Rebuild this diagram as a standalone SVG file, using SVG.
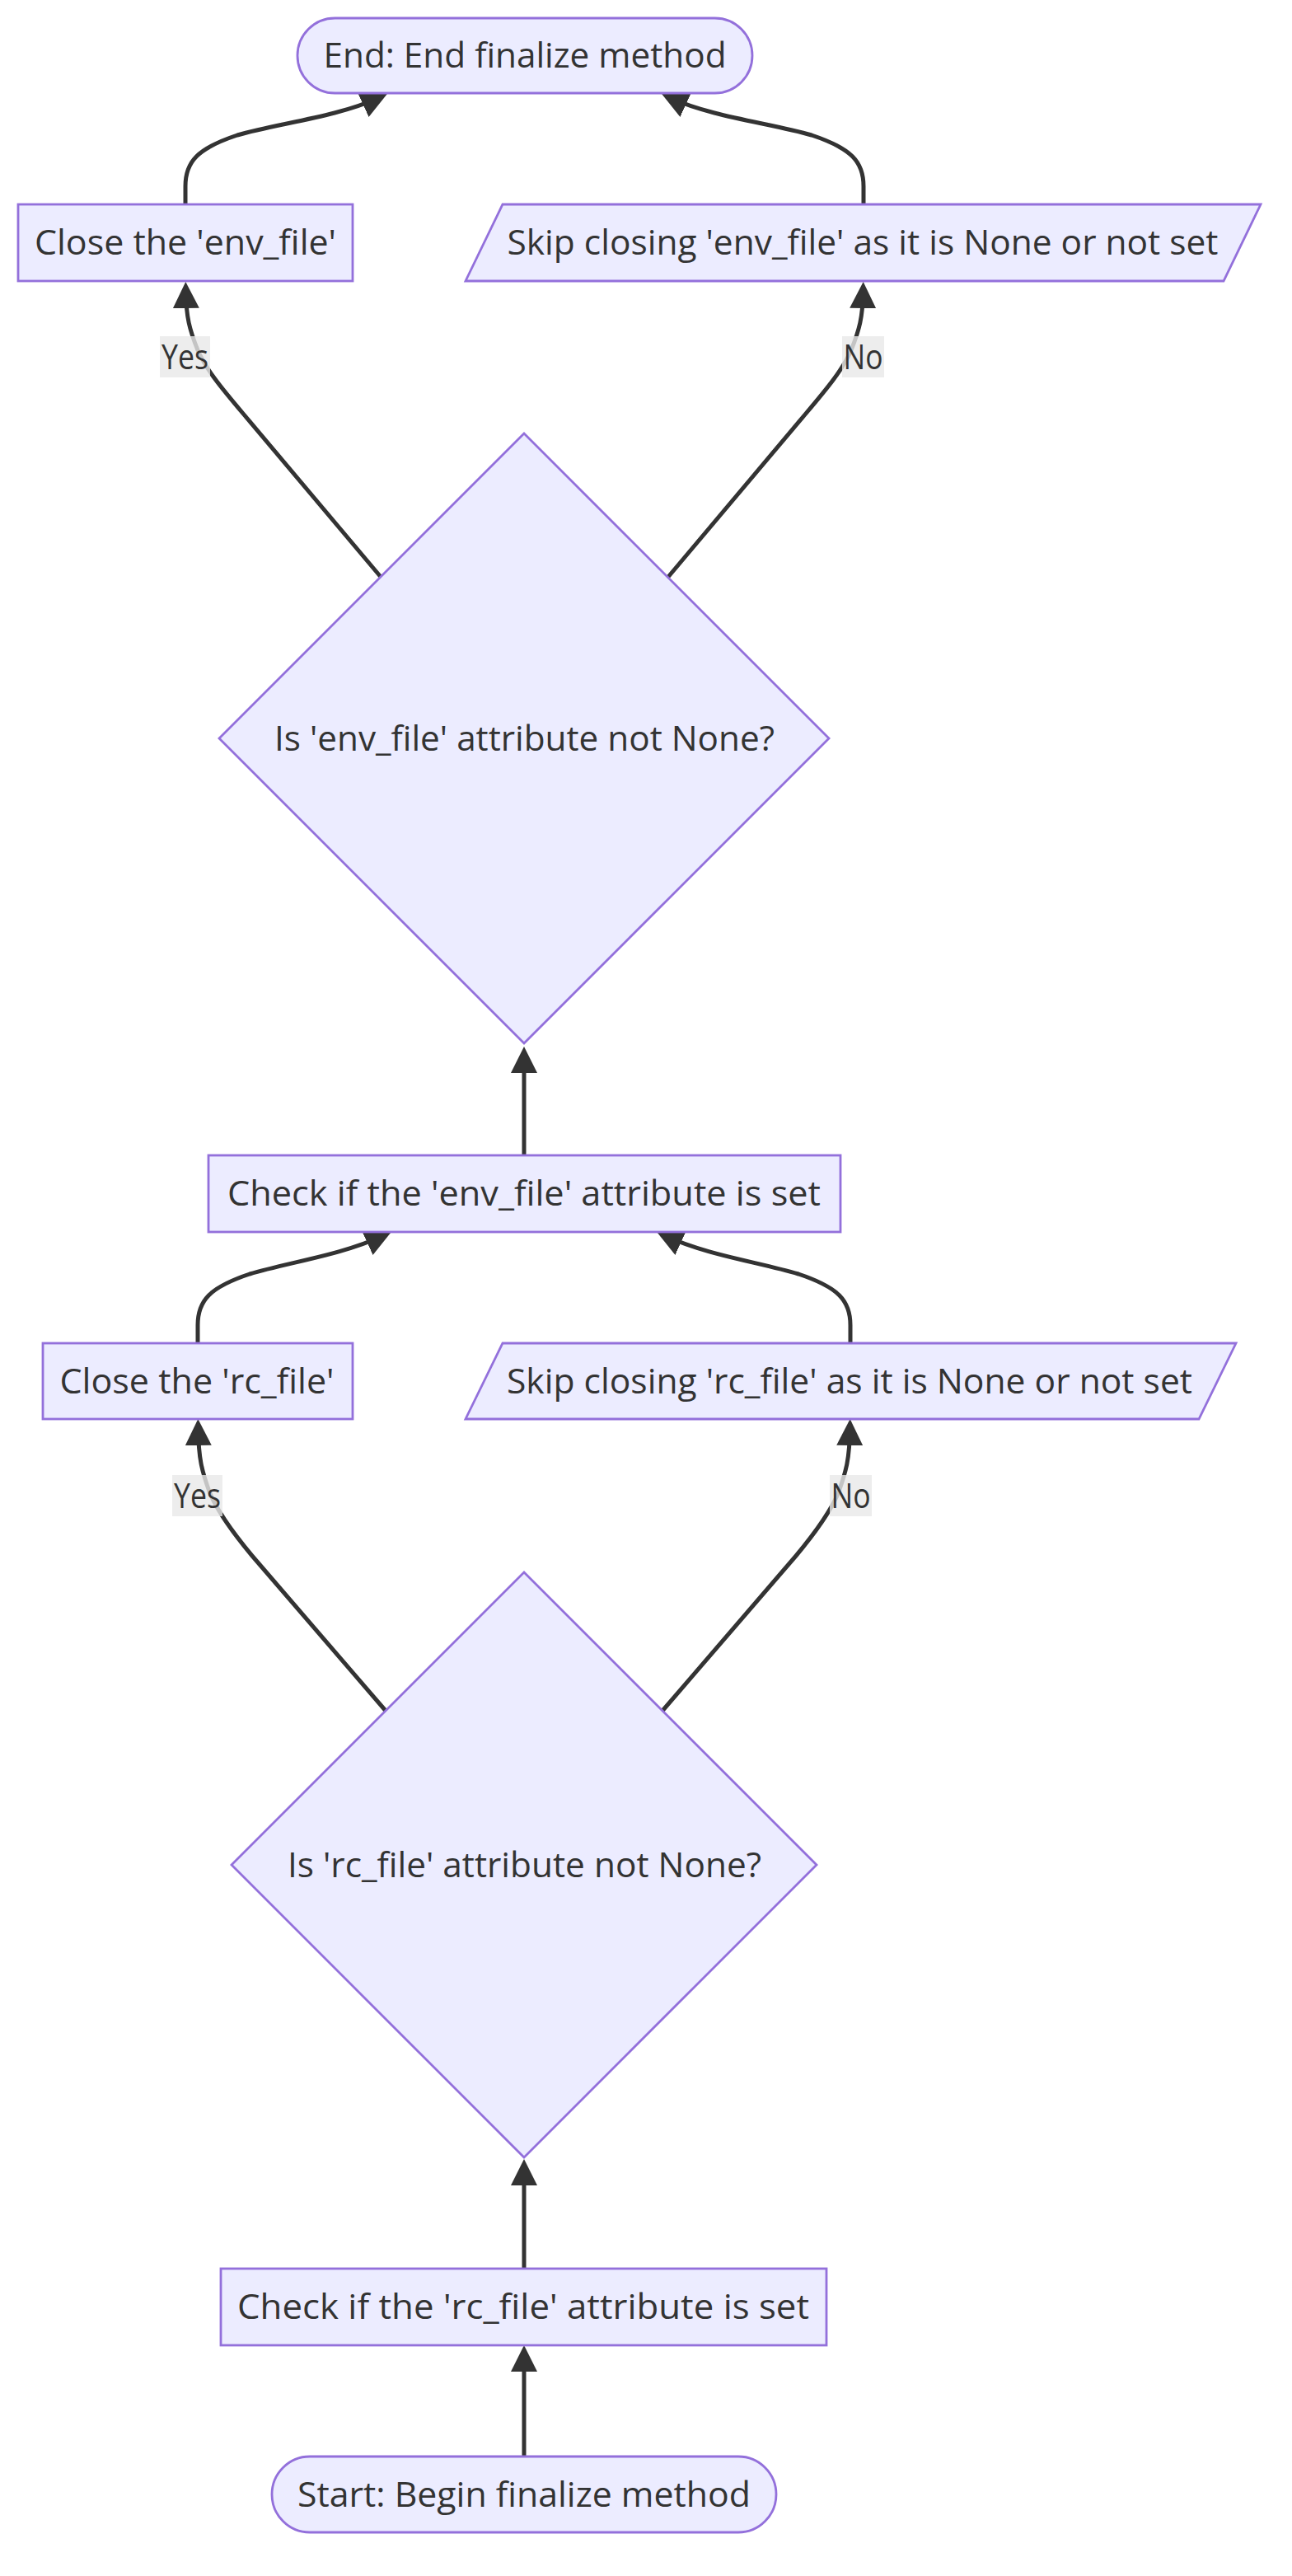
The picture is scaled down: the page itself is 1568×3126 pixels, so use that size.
<svg xmlns="http://www.w3.org/2000/svg" width="1568" height="3126" viewBox="0 0 1568 3126">
<style>
.n rect,.n polygon{fill:#ECECFF;stroke:#9370DB;stroke-width:2.8}
text{font-family:"Open Sans","Liberation Sans",sans-serif;font-size:42px;fill:#333333;text-anchor:middle}
.e path{fill:none;stroke:#333333;stroke-width:5}
.lb rect{fill:#e8e8e8;fill-opacity:0.8}
</style>
<defs>
<marker id="arr" viewBox="0 0 10 10" refX="6.25" refY="5" markerUnits="userSpaceOnUse" markerWidth="32" markerHeight="32" orient="auto">
<path d="M0,0 L10,5 L0,10 z" fill="#333333"/>
</marker>
</defs>
<rect width="1568" height="3126" fill="#ffffff"/>
<g id="connectors" class="e">
<path d="M636,2981 L636,2858" marker-end="url(#arr)"/>
<path d="M636,2753 L636,2632" marker-end="url(#arr)"/>
<path d="M468,2076 L306,1888 C281,1858 263,1833 254,1810 C245,1785 241,1770 240.5,1734" marker-end="url(#arr)"/>
<path d="M804,2076 L966,1888 C991,1858 1009,1833 1018,1810 C1027,1785 1031,1770 1031.5,1734" marker-end="url(#arr)"/>
<path d="M240,1630 L240,1608 C240,1578 255,1562 303,1546 C350,1532 414,1523 464,1500" marker-end="url(#arr)"/>
<path d="M1032,1630 L1032,1608 C1032,1578 1017,1562 969,1546 C922,1532 858,1523 808,1500" marker-end="url(#arr)"/>
<path d="M636,1402 L636,1282" marker-end="url(#arr)"/>
<path d="M462,700 L296,503 C268,470 250,448 240,425 C230,400 226,385 225.5,354" marker-end="url(#arr)"/>
<path d="M811,700 L977,503 C1005,470 1023,448 1033,425 C1043,400 1047,385 1047.5,354" marker-end="url(#arr)"/>
<path d="M225,248 L225,226 C225,196 240,180 288,164 C335,150 409,142 459,119" marker-end="url(#arr)"/>
<path d="M1048,248 L1048,226 C1048,196 1033,180 985,164 C938,150 864,142 814,119" marker-end="url(#arr)"/>
</g>
<g id="edge-labels" class="lb">
<g id="label-yes-env"><rect x="194" y="408" width="61" height="50"/><text x="224.5" y="448" textLength="57" lengthAdjust="spacingAndGlyphs">Yes</text></g>
<g id="label-no-env"><rect x="1022" y="408" width="51" height="50"/><text x="1047.5" y="448" textLength="48" lengthAdjust="spacingAndGlyphs">No</text></g>
<g id="label-yes-rc"><rect x="209" y="1790" width="61" height="50"/><text x="239.5" y="1830" textLength="57" lengthAdjust="spacingAndGlyphs">Yes</text></g>
<g id="label-no-rc"><rect x="1007" y="1790" width="51" height="50"/><text x="1032.5" y="1830" textLength="48" lengthAdjust="spacingAndGlyphs">No</text></g>
</g>
<g id="node-end" class="n"><rect x="361" y="22" width="552" height="91" rx="45.5" ry="45.5"/><text x="637" y="82" textLength="489" lengthAdjust="spacingAndGlyphs">End: End finalize method</text></g>
<g id="node-close-env" class="n"><rect x="22" y="248" width="406" height="93"/><text x="225" y="309" textLength="366" lengthAdjust="spacingAndGlyphs">Close the 'env_file'</text></g>
<g id="node-skip-env" class="n"><polygon points="610,248 1530,248 1485,341 565,341"/><text x="1047" y="309" textLength="863" lengthAdjust="spacingAndGlyphs">Skip closing 'env_file' as it is None or not set</text></g>
<g id="node-is-env" class="n"><polygon points="636,526 1006,896 636,1266 266,896"/><text x="636.5" y="910.5" textLength="607" lengthAdjust="spacingAndGlyphs">Is 'env_file' attribute not None?</text></g>
<g id="node-check-env" class="n"><rect x="253" y="1402" width="767" height="93"/><text x="636" y="1463" textLength="720" lengthAdjust="spacingAndGlyphs">Check if the 'env_file' attribute is set</text></g>
<g id="node-close-rc" class="n"><rect x="52" y="1630" width="376" height="92"/><text x="239" y="1690.5" textLength="333" lengthAdjust="spacingAndGlyphs">Close the 'rc_file'</text></g>
<g id="node-skip-rc" class="n"><polygon points="610,1630 1500,1630 1455,1722 565,1722"/><text x="1031" y="1690.5" textLength="832" lengthAdjust="spacingAndGlyphs">Skip closing 'rc_file' as it is None or not set</text></g>
<g id="node-is-rc" class="n"><polygon points="636,1908 991,2263 636,2618 281,2263"/><text x="636.5" y="2277.5" textLength="575" lengthAdjust="spacingAndGlyphs">Is 'rc_file' attribute not None?</text></g>
<g id="node-check-rc" class="n"><rect x="268" y="2753" width="735" height="93"/><text x="635" y="2814" textLength="694" lengthAdjust="spacingAndGlyphs">Check if the 'rc_file' attribute is set</text></g>
<g id="node-start" class="n"><rect x="330" y="2981" width="612" height="92" rx="46" ry="46"/><text x="636" y="3041.5" textLength="550" lengthAdjust="spacingAndGlyphs">Start: Begin finalize method</text></g>
</svg>
